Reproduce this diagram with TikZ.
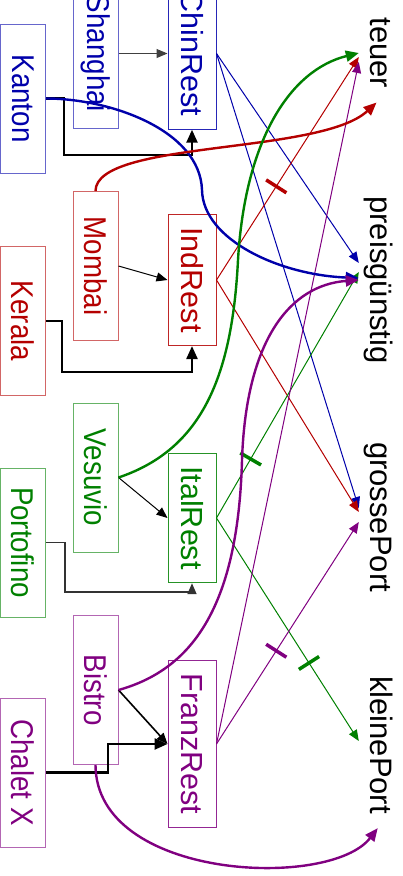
\documentclass[tikz,border=0pt]{standalone}
\usepackage{fontspec}
\usepackage{graphicx}
\setmainfont{Liberation Sans}
\usetikzlibrary{arrows.meta}
\definecolor{cblue}{RGB}{0,0,170}
\definecolor{cred}{RGB}{180,0,0}
\definecolor{cgreen}{RGB}{0,128,0}
\definecolor{cpurple}{RGB}{128,0,128}
\newcommand{\stadt}[1]{\scalebox{0.88}[1]{#1}}
\begin{document}
\begin{tikzpicture}[x=1pt,y=1pt,>={Triangle[length=11pt,width=9pt]},
    city/.style={draw=#1!60, text=#1, rotate=-90, minimum width=149pt, minimum height=45pt,
      inner sep=0pt, line width=1pt, font=\fontsize{31.5}{36}\selectfont},
    rest/.style={draw=#1!85, text=#1, rotate=-90, minimum width=128pt, minimum height=48pt,
      inner xsep=13pt, inner ysep=0pt, line width=1pt, font=\fontsize{30.5}{36}\selectfont},
    lbl/.style={rotate=-90, anchor=base, inner xsep=14pt, inner ysep=4pt, text depth=7pt,
      font=\fontsize{31}{37}\selectfont},
    fine/.style={->, line width=1pt, draw=#1},
    heavy/.style={-{Triangle[length=13pt,width=11pt]}, line width=2.4pt, draw=#1},
    tickmark/.style={sloped, fill=#1, inner sep=0pt, minimum width=3.5pt, minimum height=24pt}]
    \useasboundingbox (0,0) rectangle (402,-876);
    % Staedte
    \node[city=cblue] (Shanghai) at (95.5,-53.5) {\stadt{Shanghai}};
    \node[city=cblue] (Kanton) at (23,-98.5) {\stadt{Kanton}};
    \node[city=cred] (Mombai) at (95.5,-266) {\stadt{Mombai}};
    \node[city=cred] (Kerala) at (23,-321) {\stadt{Kerala}};
    \node[city=cgreen] (Vesuvio) at (95.5,-477.5) {\stadt{Vesuvio}};
    \node[city=cgreen] (Portofino) at (23,-542.5) {\stadt{Portofino}};
    \node[city=cpurple] (Bistro) at (95.5,-690) {\stadt{Bistro}};
    \node[city=cpurple] (Chalet) at (23,-772.5) {\stadt{Chalet X}};
    % Restaurants
    \node[rest=cblue] (ChinRest) at (192,-53.5) {ChinRest};
    \node[rest=cred] (IndRest) at (192,-280) {IndRest};
    \node[rest=cgreen] (ItalRest) at (192,-518) {ItalRest};
    \node[rest=cpurple] (FranzRest) at (192,-744) {FranzRest};
    % Eigenschaften
    \node[lbl] (teuer) at (370,-53) {teuer};
    \node[lbl] (preis) at (370,-280) {preisgünstig};
    \node[lbl] (gross) at (370,-517) {grossePort};
    \node[lbl] (klein) at (370,-745) {kleinePort};

    % Stadt -> Restaurant
    \draw[fine=black!75] (Shanghai.north) -- (ChinRest.south);
    \draw[heavy=black] (Kanton.north) -- ++(18,0) |- ([yshift=-25pt]ChinRest.east) -- (ChinRest.east);
    \draw[fine=black] (Mombai.north) -- (IndRest.south);
    \draw[heavy=black] (Kerala.north) -- ++(16,0) |- ([yshift=-26pt]IndRest.east) -- (IndRest.east);
    \draw[fine=black] (Vesuvio.north) -- (ItalRest.south);
    \draw[->, line width=1.6pt, draw=black!80] (Portofino.north) -- ++(19,0) |- ([yshift=-9pt]ItalRest.east) -- (ItalRest.east);
    \draw[->, line width=1.6pt] (Bistro.north) -- (FranzRest.south);
    \draw[heavy=black] (Chalet.north) -- ++(62,0) |- (FranzRest.south);

    % Restaurant -> Eigenschaft
    \draw[fine=cblue] (ChinRest.north) -- ([yshift=17pt]preis.south);
    \draw[fine=cblue] (ChinRest.north) -- ([yshift=9pt]gross.south);
    \draw[fine=cred] (IndRest.north) -- ([yshift=-4pt]teuer.south) node[tickmark=cred, pos=.42] {};
    \draw[fine=cred] (IndRest.north) -- ([yshift=5pt]gross.south);
    \draw[fine=cgreen] (ItalRest.north) -- ([yshift=8pt]preis.south) node[tickmark=cgreen, pos=.24] {};
    \draw[fine=cgreen] (ItalRest.north) -- ([yshift=4pt]klein.south) node[tickmark=cgreen, pos=.65] {};
    \draw[fine=cpurple] (FranzRest.north) -- ([yshift=-9pt]teuer.south);
    \draw[fine=cpurple] (FranzRest.north) -- ([yshift=-5pt]gross.south) node[tickmark=cpurple, pos=.42] {};

    % Stadt -> Eigenschaft (Kurven)
    \draw[heavy=cblue] (Kanton.north) .. controls (110,-98.5) and (200,-130) .. (202,-190)
      .. controls (203,-240) and (280,-275) .. ([yshift=2pt]preis.south);
    \draw[heavy=cred] (Mombai.west) .. controls (96,-140) and (320,-155) .. (teuer.east);
    \draw[heavy=cgreen] (Vesuvio.north) .. controls (200,-450) and (232,-380) .. (238,-260)
      .. controls (245,-140) and (290,-70) .. (teuer.south);
    \draw[heavy=cpurple] (Bistro.north) .. controls (190,-670) and (238,-610) .. (242,-460)
      .. controls (246,-340) and (290,-285) .. (preis.south);
    \draw[heavy=cpurple] (Bistro.east) .. controls (96,-880) and (330,-890) .. (klein.east);
\end{tikzpicture}
\end{document}
